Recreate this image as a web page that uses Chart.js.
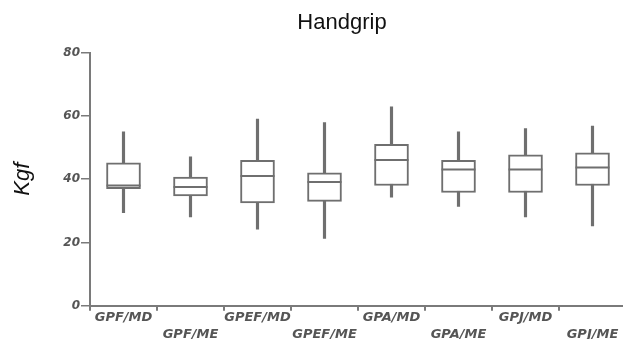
<!DOCTYPE html>
<html>
<head>
<meta charset="utf-8">
<script src="https://cdn.jsdelivr.net/npm/chart.js@4.4.1/dist/chart.umd.min.js"></script>
<style>
  html, body { margin: 0; padding: 0; background: #fff; overflow: hidden; width: 623px; height: 339px; }
  #wrap { position: relative; width: 684px; height: 339px; }
  canvas { display: block; }
</style>
</head>
<body>
<div id="wrap"><canvas id="c" width="684" height="339"></canvas></div>
<script>
const categories = ['GPF/MD', 'GPF/ME', 'GPEF/MD', 'GPEF/ME', 'GPA/MD', 'GPA/ME', 'GPJ/MD', 'GPJ/ME'];
const minValues    = [29.4, 28.1, 24.2, 21.3, 34.3, 31.4, 28.1, 25.2];
const q1Values     = [37.0, 34.7, 32.5, 33.0, 38.0, 35.8, 35.8, 38.0];
const medianValues = [38.0, 37.5, 41.0, 39.1, 46.1, 43.1, 43.1, 43.7];
const q3Values     = [45.2, 40.7, 46.0, 42.0, 51.0, 46.0, 47.7, 48.3];
const maxValues    = [55.0, 47.1, 59.0, 57.9, 62.9, 55.0, 56.0, 56.8];
const yTicks = [0, 20, 40, 60, 80];

const lineColor = '#6f6f6f';
const axisColor = '#7a7a7a';
const labelColor = '#555555';

// alternate label rows
const xLabels = categories.map((c, i) => i % 2 === 0 ? [c] : ['', c]);

new Chart(document.getElementById('c'), {
  type: 'bar',
  data: {
    labels: xLabels,
    datasets: [
      {
        type: 'line',
        label: 'Median',
        data: medianValues,
        showLine: false,
        pointStyle: 'line',
        pointRadius: 17,
        pointHoverRadius: 17,
        pointBorderWidth: 2,
        pointBorderColor: lineColor,
        borderColor: lineColor,
        order: 0
      },
      {
        label: 'IQR',
        data: q1Values.map((q1, i) => [q1, q3Values[i]]),
        backgroundColor: '#ffffff',
        borderColor: lineColor,
        borderWidth: 2,
        borderSkipped: false,
        barThickness: 34,
        grouped: false,
        order: 1
      },
      {
        label: 'Range',
        data: minValues.map((mn, i) => [mn, maxValues[i]]),
        backgroundColor: lineColor,
        borderWidth: 0,
        barThickness: 2.5,
        grouped: false,
        order: 2
      }
    ]
  },
  options: {
    responsive: false,
    animation: false,
    layout: { padding: 0 },
    plugins: {
      legend: { display: false },
      tooltip: { enabled: false },
      title: {
        display: true,
        text: 'Handgrip',
        color: '#111111',
        font: { family: 'Liberation Sans', size: 22, weight: 'normal' },
        padding: { top: 10, bottom: 16.3 }
      }
    },
    scales: {
      x: {
        offset: true,
        grid: {
          offset: true,
          drawOnChartArea: false,
          drawTicks: true,
          tickLength: 5,
          color: axisColor,
          lineWidth: 2
        },
        border: { display: true, color: axisColor, width: 2 },
        ticks: {
          autoSkip: false,
          maxRotation: 0,
          minRotation: 0,
          padding: -1,
          color: labelColor,
          font: { family: 'DejaVu Sans', size: 13, weight: 'bold', style: 'italic', lineHeight: 1.27 }
        },
        afterFit: (s) => { s.height = 33.3; }
      },
      y: {
        min: 0,
        max: 80,
        afterBuildTicks: (s) => { s.ticks = yTicks.map(v => ({ value: v })); },
        grid: {
          drawOnChartArea: false,
          drawTicks: true,
          tickLength: 9,
          color: axisColor,
          lineWidth: 1.5
        },
        border: { display: true, color: axisColor, width: 2 },
        ticks: {
          padding: 1,
          color: labelColor,
          font: { family: 'DejaVu Sans', size: 12, weight: 'bold', style: 'italic' }
        },
        title: {
          display: true,
          text: 'Kgf',
          color: '#111111',
          font: { family: 'Liberation Sans', size: 22, style: 'italic', weight: 'normal' },
          padding: { top: 10, bottom: 0 }
        },
        afterFit: (s) => { s.width = 90; }
      },
      y2: {
        position: 'right',
        display: true,
        min: 0,
        max: 80,
        grid: { display: false, drawTicks: false },
        border: { display: false },
        ticks: { display: false },
        afterFit: (s) => { s.width = 58; }
      }
    }
  }
});
</script>
</body>
</html>
